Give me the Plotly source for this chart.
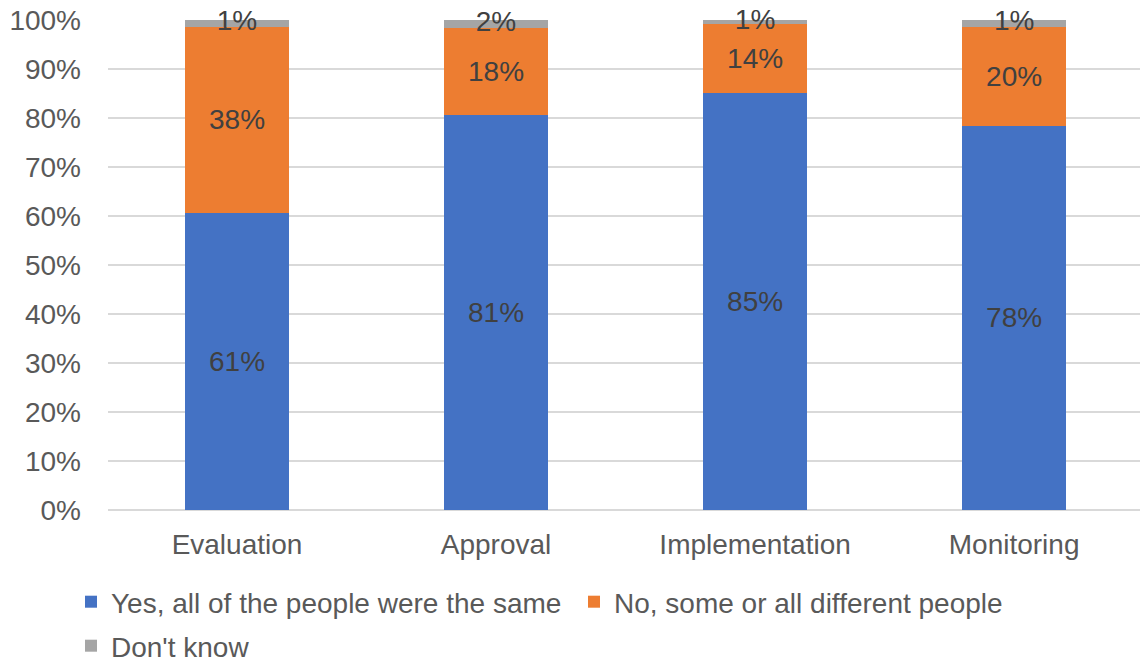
import plotly.graph_objects as go

# Stages of the process and share of respondents (percent) per answer
stages = ["Evaluation", "Approval", "Implementation", "Monitoring"]
same_people = [60.6, 80.6, 85.1, 78.4]
different_people = [38.0, 17.8, 14.1, 20.2]
dont_know = [1.4, 1.6, 0.8, 1.4]

y_ticks = [0, 10, 20, 30, 40, 50, 60, 70, 80, 90, 100]
y_tick_labels = [f"{v}%" for v in y_ticks]

FONT = "Liberation Sans, Arial, sans-serif"
TICK_COLOR = "#595959"
LABEL_COLOR = "#404040"
FS = 28

fig = go.Figure()

fig.add_trace(go.Bar(
    x=stages, y=same_people, name="Yes, all of the people were the same",
    marker=dict(color="#4472C4", line=dict(width=0)),
    text=[f"{v:.0f}%" for v in same_people], textposition="inside",
    insidetextanchor="middle", textangle=0,
    textfont=dict(family=FONT, size=FS, color=LABEL_COLOR),
    legend="legend",
))
fig.add_trace(go.Bar(
    x=stages, y=different_people, name="No, some or all different people",
    marker=dict(color="#ED7D31", line=dict(width=0)),
    text=[f"{v:.0f}%" for v in different_people], textposition="inside",
    insidetextanchor="middle", textangle=0,
    textfont=dict(family=FONT, size=FS, color=LABEL_COLOR),
    legend="legend2",
))
fig.add_trace(go.Bar(
    x=stages, y=dont_know, name="Don't know",
    marker=dict(color="#A5A5A5", line=dict(width=0)),
    textposition="none",
    legend="legend3",
))

# The thin top segment is too small to hold its label, so it is placed
# at the segment's centre as a text-only trace
gray_mid = [a + b + c / 2 for a, b, c in zip(same_people, different_people, dont_know)]
fig.add_trace(go.Scatter(
    x=stages, y=gray_mid, mode="text",
    text=[f"{v:.0f}%" for v in dont_know],
    textposition="middle center",
    textfont=dict(family=FONT, size=FS, color=LABEL_COLOR),
    showlegend=False, hoverinfo="skip", cliponaxis=False,
))

PLOT_TOP, PLOT_BOTTOM, PLOT_LEFT, PLOT_W = 20, 510, 108, 1032


def leg(px_left, px_mid_y):
    return dict(
        orientation="h",
        x=(px_left - PLOT_LEFT) / PLOT_W, xanchor="left",
        y=(PLOT_BOTTOM - px_mid_y) / (PLOT_BOTTOM - PLOT_TOP), yanchor="middle",
        font=dict(family=FONT, size=FS, color=TICK_COLOR),
        itemclick=False, itemdoubleclick=False,
        bgcolor="rgba(0,0,0,0)", borderwidth=0,
    )


fig.update_layout(
    width=1140, height=664,
    barmode="stack", bargap=0.6,
    plot_bgcolor="white", paper_bgcolor="white",
    margin=dict(l=PLOT_LEFT, r=0, t=PLOT_TOP, b=664 - PLOT_BOTTOM, autoexpand=False),
    font=dict(family=FONT, size=FS, color=TICK_COLOR),
    legend=leg(71, 602),
    legend2=leg(574, 602),
    legend3=leg(71, 646),
    xaxis=dict(
        range=[-0.498, 3.486], showgrid=False, zeroline=False, showline=False,
        ticks="", tickfont=dict(family=FONT, size=FS, color=TICK_COLOR),
        ticklabelstandoff=15,
    ),
    yaxis=dict(
        range=[0, 100], tickvals=y_ticks, ticktext=y_tick_labels,
        showgrid=True, gridcolor="#D9D9D9", gridwidth=2,
        zeroline=True, zerolinecolor="#D9D9D9", zerolinewidth=2,
        showline=False, ticks="", ticklabelstandoff=26,
        tickfont=dict(family=FONT, size=FS, color=TICK_COLOR),
    ),
)

fig.write_html("out.html")
